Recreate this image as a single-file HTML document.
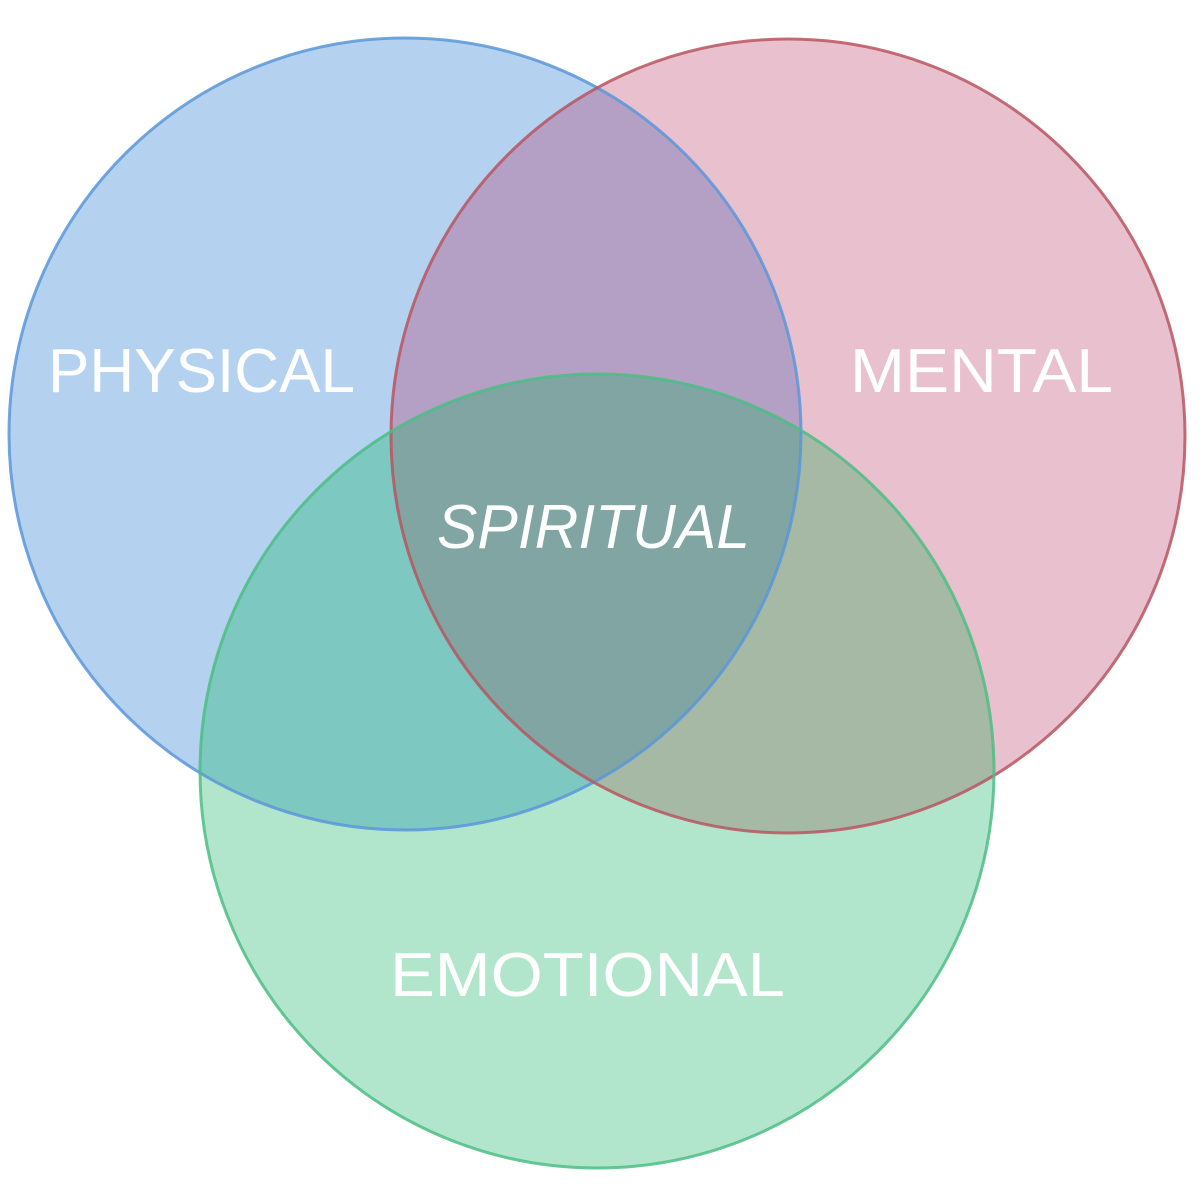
<!DOCTYPE html>
<html><head><meta charset="utf-8"><style>html,body{margin:0;padding:0;background:#fff}svg{display:block}</style></head>
<body>
<svg width="1200" height="1200" viewBox="0 0 1200 1200" xmlns="http://www.w3.org/2000/svg">
<defs>
<clipPath id="cb"><circle cx="405" cy="434" r="396"/></clipPath>
<clipPath id="cr"><circle cx="788" cy="436" r="397"/></clipPath>
<clipPath id="cg"><circle cx="597" cy="771" r="397"/></clipPath>
</defs>
<rect width="1200" height="1200" fill="#fff"/>
<circle cx="405" cy="434" r="396" fill="#b4d2f0"/>
<circle cx="788" cy="436" r="397" fill="#e9c0ce"/>
<circle cx="597" cy="771" r="397" fill="#b2e6cc"/>
<g clip-path="url(#cb)">
  <circle cx="788" cy="436" r="397" fill="#b4a0c5"/>
  <circle cx="597" cy="771" r="397" fill="#7dc8c0"/>
</g>
<g clip-path="url(#cr)">
  <circle cx="597" cy="771" r="397" fill="#a5b9a5"/>
</g>
<g clip-path="url(#cb)"><g clip-path="url(#cr)">
  <circle cx="597" cy="771" r="397" fill="#80a5a2"/>
</g></g>
<circle cx="405" cy="434" r="396" fill="none" stroke="#5a96d8" stroke-width="3" stroke-opacity="0.85"/>
<circle cx="788" cy="436" r="397" fill="none" stroke="#b85560" stroke-width="3" stroke-opacity="0.85"/>
<circle cx="597" cy="771" r="397" fill="none" stroke="#4cbd84" stroke-width="3" stroke-opacity="0.85"/>
<g fill="#fff" font-family="Liberation Sans, sans-serif" font-size="62">
<text x="48" y="392" textLength="307" lengthAdjust="spacingAndGlyphs">PHYSICAL</text>
<text x="850" y="392" textLength="263" lengthAdjust="spacingAndGlyphs">MENTAL</text>
<text x="437" y="548" font-style="italic" textLength="313" lengthAdjust="spacingAndGlyphs">SPIRITUAL</text>
<text x="390" y="996" textLength="395" lengthAdjust="spacingAndGlyphs">EMOTIONAL</text>
</g>
</svg>
</body></html>
